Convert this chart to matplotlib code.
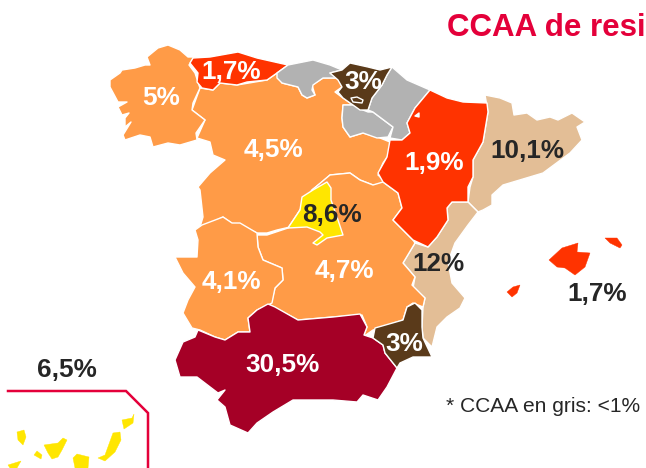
# Spain map: share per autonomous community of residence
import matplotlib
matplotlib.use('Agg')
import matplotlib.pyplot as plt

plt.rcParams['font.family'] = ['Liberation Sans', 'DejaVu Sans']

# Colours
ORANGE = '#FF9B47'
RED = '#FF3300'
TAN = '#E3BE96'
YELLOW = '#FFE600'
MAROON = '#A50026'
BROWN = '#5A3A1A'
GREY = '#B2B2B2'
CRIMSON = '#E4003A'
DARK = '#262626'

# Region outlines
galicia = [(110,80),(120,73),(122,70),(135,68),(145,65),(150,65),(147,57),(158,48),(168,45),(180,50),(188,57),(194,57),(189,65),(195,73),(200,88),(193,103),(192,110),(205,120),(196,133),(197,140),(180,145),(168,143),(153,147),(150,137),(140,135),(125,140),(123,135),(131,122),(125,127),(125,118),(129,113),(122,115),(118,107),(127,102),(118,102),(110,87)]
asturias = [(193,58),(210,57),(238,52),(257,58),(288,65),(277,73),(267,80),(247,82),(237,85),(220,83),(213,90),(202,88),(197,82),(198,73),(190,63)]
cantabria = [(288,65),(313,60),(330,65),(342,70),(330,73),(338,78),(323,78),(313,85),(312,90),(315,95),(307,98),(302,95),(298,87),(282,83),(277,78),(277,73)]
pais_vasco = [(330,73),(342,70),(350,63),(368,67),(380,70),(392,67),(387,75),(382,85),(372,98),(368,110),(360,110),(353,105),(343,98),(338,92),(342,87),(338,80)]
trevino = [(351,98),(357,97),(363,100),(362,103),(353,102)]
castilla_leon = [(277,73),(282,83),(298,87),(302,95),(307,98),(315,95),(312,85),(323,78),(338,78),(342,87),(335,92),(343,98),(353,105),(343,105),(342,118),(343,127),(350,137),(363,133),(380,138),(390,142),(390,153),(383,163),(378,175),(387,183),(373,185),(360,180),(350,173),(330,175),(322,182),(312,190),(300,210),(290,227),(277,230),(267,233),(257,233),(247,228),(237,227),(223,217),(213,222),(200,227),(203,217),(200,190),(198,187),(210,173),(225,160),(213,155),(210,142),(197,138),(205,120),(192,110),(200,88),(213,90),(220,83),(237,85),(267,80)]
la_rioja = [(343,105),(353,105),(363,110),(368,112),(373,112),(393,127),(388,137),(377,138),(363,133),(350,137),(343,127),(342,118)]
navarra = [(392,67),(407,80),(430,90),(415,108),(407,123),(410,133),(402,140),(390,138),(393,127),(373,112),(368,110),(372,98),(382,85),(387,75)]
aragon = [(430,90),(447,98),(463,102),(487,103),(488,112),(483,142),(473,160),(473,177),(468,187),(468,202),(452,202),(447,208),(448,220),(437,237),(428,247),(413,240),(403,230),(393,220),(402,208),(398,193),(383,182),(378,173),(387,157),(390,140),(402,140),(410,133),(407,123),(415,108)]
aragon_spot = [(415,116),(419,113),(419,117)]
cataluna = [(485,95),(500,98),(512,103),(514,115),(527,113),(537,120),(550,117),(558,120),(572,113),(585,122),(577,127),(582,140),(570,153),(543,173),(503,185),(492,195),(492,205),(483,210),(478,212),(468,202),(470,187),(473,177),(473,160),(483,142),(488,112)]
valencia = [(478,212),(468,202),(452,202),(447,208),(448,220),(437,237),(428,247),(415,243),(403,263),(415,277),(413,288),(425,298),(423,307),(422,327),(423,338),(432,347),(437,327),(447,317),(460,308),(465,298),(452,283),(448,262),(455,243),(468,225)]
extremadura = [(195,230),(202,225),(223,217),(232,223),(240,223),(257,233),(258,247),(263,260),(282,268),(283,280),(275,288),(272,303),(257,310),(248,318),(250,332),(238,332),(225,340),(215,337),(200,330),(192,328),(183,313),(188,300),(195,287),(183,273),(175,257),(197,257),(198,240)]
castilla_mancha = [(330,175),(350,173),(360,180),(373,185),(383,182),(398,193),(402,208),(393,220),(403,230),(413,240),(415,243),(403,263),(415,277),(412,285),(425,298),(423,307),(413,303),(407,307),(403,320),(373,330),(363,337),(367,327),(362,315),(333,317),(298,320),(270,305),(272,300),(275,288),(283,280),(282,268),(263,260),(258,247),(257,235),(267,235),(288,228),(300,210),(312,190)]
madrid = [(327,182),(331,188),(331,200),(338,220),(343,235),(327,238),(317,245),(313,243),(323,235),(320,232),(307,227),(288,228),(292,222),(300,210),(302,197),(313,190)]
andalucia = [(268,304),(275,307),(298,320),(333,317),(360,314),(367,327),(364,335),(373,338),(383,345),(385,353),(397,368),(387,387),(378,400),(363,395),(357,402),(333,400),(293,400),(273,412),(257,423),(248,433),(230,425),(225,407),(217,400),(225,390),(218,393),(197,377),(180,377),(175,360),(183,342),(195,337),(198,330),(215,337),(225,340),(238,332),(250,332),(248,318),(257,310)]
murcia = [(415,303),(422,310),(422,327),(423,338),(432,357),(413,357),(400,363),(397,368),(385,353),(383,345),(373,338),(375,328),(403,320),(407,307)]
mallorca = [(549,260),(562,248),(578,243),(577,252),(590,253),(585,267),(575,275),(565,268),(557,267)]
menorca = [(605,238),(617,238),(622,245),(620,248),(610,243)]
ibiza = [(507,292),(513,287),(520,285),(517,293),(512,297)]
la_palma = [(17,432),(24,430),(26,437),(23,445),(18,440)]
tenerife = [(44,445),(58,443),(63,438),(67,440),(62,450),(58,457),(52,459),(48,453)]
gomera = [(34,455),(37,451),(42,455),(41,459)]
hierro = [(8,465),(21,461),(17,468),(10,468)]
gran_canaria = [(73,458),(77,454),(89,457),(88,468),(75,468)]
fuerteventura = [(98,458),(105,455),(113,433),(120,432),(121,440),(115,452),(105,461)]
lanzarote = [(122,420),(132,418),(134,414),(133,423),(124,429)]

frame_x = [8, 126, 148, 148]
frame_y = [391, 391, 413, 468]

# Values shown on the map
labels = ['5%', '1,7%', '3%', '4,5%', '1,9%', '10,1%', '8,6%', '12%', '1,7%', '4,1%', '4,7%', '30,5%', '3%', '6,5%']
label_x = [161, 231, 363, 273, 434, 527, 332, 438, 597, 231, 344, 283, 404, 67]
label_y = [98, 72, 82, 150, 163, 151, 215, 264, 294, 282, 271, 365, 344, 370]
label_col = ['white', 'white', 'white', 'white', 'white', DARK, DARK, DARK, DARK, 'white', 'white', 'white', 'white', DARK]

fig = plt.figure(figsize=(6.46, 4.68), dpi=100)
ax = fig.add_axes([0, 0, 1, 1])
ax.set_xlim(0, 646)
ax.set_ylim(468, 0)
ax.axis('off')

# Mainland, drawn in order so neighbours sit on top of each other
mainland = [(castilla_leon, ORANGE), (galicia, ORANGE), (asturias, RED), (cantabria, GREY), (la_rioja, GREY),
            (navarra, GREY), (pais_vasco, BROWN), (trevino, BROWN), (cataluna, TAN), (valencia, TAN),
            (castilla_mancha, ORANGE), (aragon, RED), (aragon_spot, 'white'), (extremadura, ORANGE),
            (andalucia, MAROON), (murcia, BROWN), (madrid, YELLOW)]
for outline, colour in mainland:
    xs, ys = zip(*outline)
    ax.fill(xs, ys, facecolor=colour, edgecolor='white', linewidth=1.0, joinstyle='round')

# Islands have no white border
for outline in [mallorca, menorca, ibiza]:
    xs, ys = zip(*outline)
    ax.fill(xs, ys, facecolor=RED, edgecolor=RED, linewidth=0.3)
for outline in [la_palma, tenerife, gomera, hierro, gran_canaria, fuerteventura, lanzarote]:
    xs, ys = zip(*outline)
    ax.fill(xs, ys, facecolor=YELLOW, edgecolor=YELLOW, linewidth=0.3)

ax.plot(frame_x, frame_y, color=CRIMSON, linewidth=1.8, solid_joinstyle='miter')

for txt, x, y, col in zip(labels, label_x, label_y, label_col):
    ax.text(x, y, txt, color=col, fontsize=18.8, fontweight='bold', ha='center', va='center')

ax.text(447, 36.5, 'CCAA de resi', color=CRIMSON, fontsize=22.5, fontweight='bold', ha='left', va='baseline')
ax.text(446, 407, '* CCAA en gris: <1%', color=DARK, fontsize=15.1, ha='left', va='center')

fig.savefig('out.png', dpi=100)
